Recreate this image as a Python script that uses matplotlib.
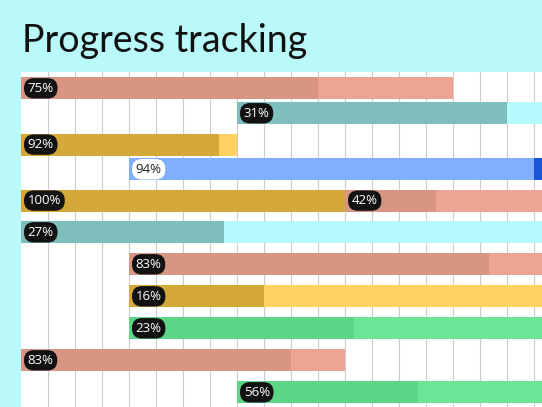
import matplotlib.pyplot as plt

# tasks (x in days, lane in rows)
lanes = [0, 0.78, 1.76, 2.53, 3.51, 3.51, 4.5, 5.5, 6.5, 7.5, 8.5, 9.5]
starts = [0, 8, 0, 4, 0, 12, 0, 4, 4, 4, 0, 8]
durations = [16, 32, 8, 16, 12, 8, 28, 16, 31, 36, 12, 12]
done = [11, 10, 7.35, 15, 12, 3.37, 7.53, 13.36, 5, 8.34, 10, 6.7]
labels = ['75%', '31%', '92%', '94%', '100%', '42%', '27%', '83%', '16%',
          '23%', '83%', '56%']
kinds = ['salmon', 'teal', 'gold', 'blue', 'gold', 'salmon', 'teal',
         'salmon', 'gold', 'green', 'salmon', 'green']

palette = {
    'salmon': ('#d99583', '#eba592'),
    'teal': ('#7ebfbe', '#b5fbfb'),
    'gold': ('#d4a93a', '#fed160'),
    'blue': ('#80afff', '#1a55d8'),
    'green': ('#5dd587', '#6de596'),
}

W, H = 542, 407
bg = '#b9f9fa'
left_px, top_px, day_px, row_px = 20.7, 72.3, 27.0, 32.0

fig = plt.figure(figsize=(W / 100, H / 100), dpi=100, facecolor=bg)
ax = fig.add_axes([left_px / W, 0, 1 - left_px / W, 1 - top_px / H])
ax.set_facecolor('white')
ax.set_xlim(0, (W - left_px) / day_px)
ax.set_ylim((H - 88.3) / row_px, (top_px - 88.3) / row_px)
for s in ax.spines.values():
    s.set_visible(False)
ax.set_xticks(range(1, 20))
ax.set_yticks([])
ax.tick_params(length=0, labelbottom=False)
ax.grid(axis='x', color='#cccccc', linewidth=0.8)
ax.set_axisbelow(True)

bar_h = 22 / row_px
for lane, st, dur, dn, lab, kind in zip(lanes, starts, durations, done,
                                        labels, kinds):
    c_done, c_rest = palette[kind]
    ax.barh(lane, dur, left=st, height=bar_h, color=c_rest, zorder=2)
    ax.barh(lane, dn, left=st, height=bar_h, color=c_done, zorder=3)
    if kind == 'blue':
        fc, tc = 'white', '#222222'
    else:
        fc, tc = '#121212', 'white'
    ax.annotate(lab, (st, lane), xytext=(7, 0), textcoords='offset pixels',
                ha='left', va='center', fontsize=9.5, color=tc,
                family='Open Sans', zorder=5,
                bbox=dict(boxstyle='round,pad=0.28,rounding_size=0.75',
                          fc=fc, ec='none'))

fig.text(22 / W, 1 - 52 / H, 'Progress tracking', fontsize=27,
         family='Lato', va='baseline', ha='left', color='#111111')

fig.savefig('out.png', dpi=100, facecolor=bg)
